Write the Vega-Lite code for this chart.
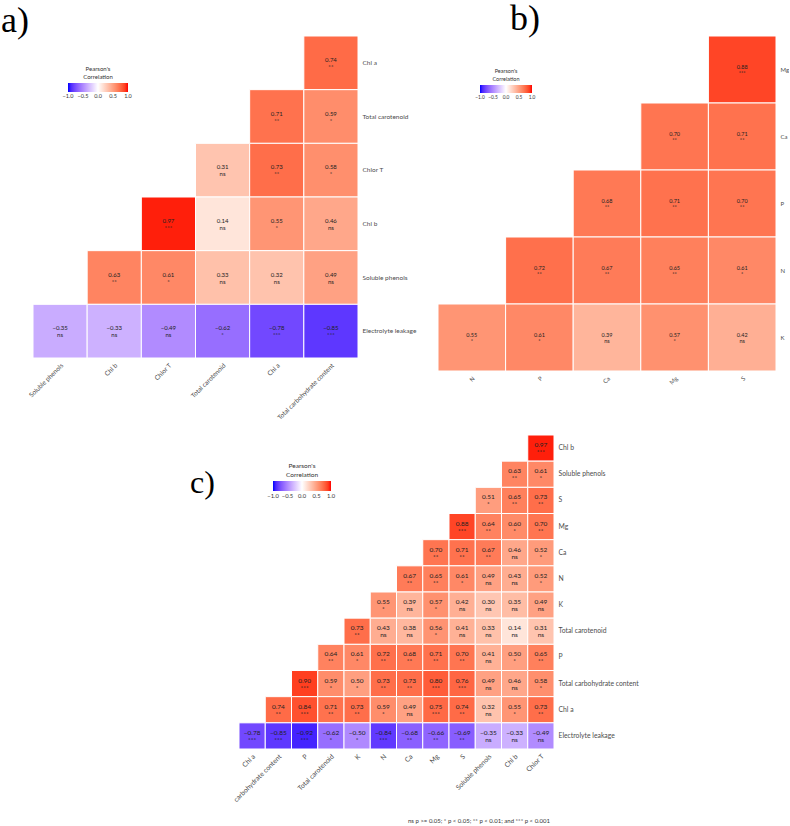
{
  "$schema": "https://vega.github.io/schema/vega-lite/v6.json",
  "padding": {"left": 1, "top": 0, "right": 0, "bottom": 0},
  "background": "white",
  "config": {
    "view": {"stroke": null},
    "axis": {"domain": false, "ticks": false, "grid": false, "labelFont": "Lato", "labelColor": "#4d4d4d", "title": null},
    "title": {"font": "Liberation Serif", "fontWeight": "normal", "color": "#000000"}
  },
  "resolve": {"scale": {"color": "independent"}},
  "bounds": "flush",
  "spacing": 399,
  "vconcat": [
    {
      "bounds": "flush",
      "spacing": 80,
      "resolve": {"scale": {"color": "independent"}},
      "hconcat": [
        {
          "width": 325, "height": 322,
          "title": {"text": "a)", "anchor": "start", "frame": "group", "fontSize": 36, "baseline": "alphabetic", "offset": 0, "dx": -32, "dy": 32},
          "data": {"values": [
            {"row": "Chl a", "col": "Total carbohydrate content", "r": 0.74, "sig": "**"},
            {"row": "Total carotenoid", "col": "Chl a", "r": 0.71, "sig": "**"},
            {"row": "Total carotenoid", "col": "Total carbohydrate content", "r": 0.59, "sig": "*"},
            {"row": "Chlor T", "col": "Total carotenoid", "r": 0.31, "sig": "ns"},
            {"row": "Chlor T", "col": "Chl a", "r": 0.73, "sig": "**"},
            {"row": "Chlor T", "col": "Total carbohydrate content", "r": 0.58, "sig": "*"},
            {"row": "Chl b", "col": "Chlor T", "r": 0.97, "sig": "***"},
            {"row": "Chl b", "col": "Total carotenoid", "r": 0.14, "sig": "ns"},
            {"row": "Chl b", "col": "Chl a", "r": 0.55, "sig": "*"},
            {"row": "Chl b", "col": "Total carbohydrate content", "r": 0.46, "sig": "ns"},
            {"row": "Soluble phenols", "col": "Chl b", "r": 0.63, "sig": "**"},
            {"row": "Soluble phenols", "col": "Chlor T", "r": 0.61, "sig": "*"},
            {"row": "Soluble phenols", "col": "Total carotenoid", "r": 0.33, "sig": "ns"},
            {"row": "Soluble phenols", "col": "Chl a", "r": 0.32, "sig": "ns"},
            {"row": "Soluble phenols", "col": "Total carbohydrate content", "r": 0.49, "sig": "ns"},
            {"row": "Electrolyte leakage", "col": "Soluble phenols", "r": -0.35, "sig": "ns"},
            {"row": "Electrolyte leakage", "col": "Chl b", "r": -0.33, "sig": "ns"},
            {"row": "Electrolyte leakage", "col": "Chlor T", "r": -0.49, "sig": "ns"},
            {"row": "Electrolyte leakage", "col": "Total carotenoid", "r": -0.62, "sig": "*"},
            {"row": "Electrolyte leakage", "col": "Chl a", "r": -0.78, "sig": "***"},
            {"row": "Electrolyte leakage", "col": "Total carbohydrate content", "r": -0.85, "sig": "***"}
          ]},
          "encoding": {
            "x": {"field": "col", "type": "nominal", "sort": ["Soluble phenols", "Chl b", "Chlor T", "Total carotenoid", "Chl a", "Total carbohydrate content"], "scale": {"paddingInner": 0, "paddingOuter": 0}, "axis": {"orient": "bottom", "labelAngle": -45, "labelFontSize": 6.5, "labelPadding": 4, "labelColor": "#4d4d4d"}},
            "y": {"field": "row", "type": "nominal", "sort": ["Chl a", "Total carotenoid", "Chlor T", "Chl b", "Soluble phenols", "Electrolyte leakage"], "scale": {"paddingInner": 0, "paddingOuter": 0}, "axis": {"orient": "right", "labelFontSize": 6.5, "labelPadding": 4, "labelColor": "#4d4d4d"}}
          },
          "layer": [
            {"mark": {"type": "rect", "stroke": "white", "strokeWidth": 1},
             "encoding": {"color": {"field": "r", "type": "quantitative",
               "scale": {"domain": [-1, 0, 1], "range": ["#0000FF", "#FFFFFF", "#FF0000"], "interpolate": "lab"},
               "legend": {"orient": "none", "legendX": 35, "legendY": 30, "direction": "horizontal", "gradientLength": 60, "gradientThickness": 9, "gradientStrokeWidth": 0, "title": ["Pearson's", "Correlation"], "titleFont": "Lato", "titleFontSize": 6, "titleFontWeight": "normal", "titleColor": "#333333", "titleAnchor": "middle", "titleAlign": "center", "titlePadding": 3, "labelFont": "Lato", "labelFontSize": 5.5, "labelColor": "#333333", "labelOverlap": false, "labelAlign": "center", "values": [-0.999, -0.5, 0, 0.5, 0.999], "format": ".1f", "labelOffset": 2}}}},
            {"mark": {"type": "text", "font": "Lato", "fontSize": 6, "color": "#222222", "dy": -3, "baseline": "middle"}, "encoding": {"text": {"field": "r", "type": "quantitative", "format": ".2f"}}},
            {"mark": {"type": "text", "font": "Lato", "fontSize": 6, "color": "#222222", "dy": 4, "baseline": "middle"}, "encoding": {"text": {"field": "sig", "type": "nominal"}}}
          ]
        },
        {
          "width": 338, "height": 335,
          "title": {"text": "b)", "anchor": "start", "frame": "group", "fontSize": 36, "baseline": "alphabetic", "offset": 0, "dx": 72, "dy": 30},
          "data": {"values": [
            {"row": "Mg", "col": "S", "r": 0.88, "sig": "***"},
            {"row": "Ca", "col": "Mg", "r": 0.70, "sig": "**"},
            {"row": "Ca", "col": "S", "r": 0.71, "sig": "**"},
            {"row": "P", "col": "Ca", "r": 0.68, "sig": "**"},
            {"row": "P", "col": "Mg", "r": 0.71, "sig": "**"},
            {"row": "P", "col": "S", "r": 0.70, "sig": "**"},
            {"row": "N", "col": "P", "r": 0.72, "sig": "**"},
            {"row": "N", "col": "Ca", "r": 0.67, "sig": "**"},
            {"row": "N", "col": "Mg", "r": 0.65, "sig": "**"},
            {"row": "N", "col": "S", "r": 0.61, "sig": "*"},
            {"row": "K", "col": "N", "r": 0.55, "sig": "*"},
            {"row": "K", "col": "P", "r": 0.61, "sig": "*"},
            {"row": "K", "col": "Ca", "r": 0.39, "sig": "ns"},
            {"row": "K", "col": "Mg", "r": 0.57, "sig": "*"},
            {"row": "K", "col": "S", "r": 0.42, "sig": "ns"}
          ]},
          "encoding": {
            "x": {"field": "col", "type": "nominal", "sort": ["N", "P", "Ca", "Mg", "S"], "scale": {"paddingInner": 0, "paddingOuter": 0}, "axis": {"orient": "bottom", "labelAngle": -45, "labelFontSize": 6, "labelPadding": 4, "labelColor": "#4d4d4d"}},
            "y": {"field": "row", "type": "nominal", "sort": ["Mg", "Ca", "P", "N", "K"], "scale": {"paddingInner": 0, "paddingOuter": 0}, "axis": {"orient": "right", "labelFontSize": 6, "labelPadding": 4, "labelColor": "#4d4d4d"}}
          },
          "layer": [
            {"mark": {"type": "rect", "stroke": "white", "strokeWidth": 1},
             "encoding": {"color": {"field": "r", "type": "quantitative",
               "scale": {"domain": [-1, 0, 1], "range": ["#0000FF", "#FFFFFF", "#FF0000"], "interpolate": "lab"},
               "legend": {"orient": "none", "legendX": 42, "legendY": 33, "direction": "horizontal", "gradientLength": 52, "gradientThickness": 8, "gradientStrokeWidth": 0, "title": ["Pearson's", "Correlation"], "titleFont": "Lato", "titleFontSize": 5.5, "titleFontWeight": "normal", "titleColor": "#333333", "titleAnchor": "middle", "titleAlign": "center", "titlePadding": 3, "labelFont": "Lato", "labelFontSize": 4.8, "labelColor": "#333333", "labelOverlap": false, "labelAlign": "center", "values": [-0.999, -0.5, 0, 0.5, 0.999], "format": ".1f", "labelOffset": 2}}}},
            {"mark": {"type": "text", "font": "Lato", "fontSize": 5.5, "color": "#222222", "dy": -3, "baseline": "middle"}, "encoding": {"text": {"field": "r", "type": "quantitative", "format": ".2f"}}},
            {"mark": {"type": "text", "font": "Lato", "fontSize": 5.5, "color": "#222222", "dy": 3.5, "baseline": "middle"}, "encoding": {"text": {"field": "sig", "type": "nominal"}}}
          ]
        }
      ]
    },
    {
      "title": {"text": "ns p >= 0.05; * p < 0.05; ** p < 0.01; and *** p < 0.001", "orient": "bottom", "anchor": "start", "frame": "group", "dx": 375, "offset": 15, "font": "Lato", "fontSize": 6, "fontWeight": "normal", "color": "#333333"},
      "bounds": "flush",
      "spacing": 10,
      "resolve": {"scale": {"color": "independent"}},
      "hconcat": [
        {
          "width": 196, "height": 1,
          "data": {"values": []},
          "mark": {"type": "point", "opacity": 0},
          "encoding": {}
        },
        {
          "width": 315, "height": 314,
          "title": {"text": "c)", "anchor": "start", "frame": "group", "fontSize": 32, "baseline": "alphabetic", "offset": 0, "dx": -49, "dy": 90},
          "data": {"values": [
            {"row": "Chl b", "col": "Chlor T", "r": 0.97, "sig": "***"},
            {"row": "Soluble phenols", "col": "Chl b", "r": 0.63, "sig": "**"},
            {"row": "Soluble phenols", "col": "Chlor T", "r": 0.61, "sig": "*"},
            {"row": "S", "col": "Soluble phenols", "r": 0.51, "sig": "*"},
            {"row": "S", "col": "Chl b", "r": 0.65, "sig": "**"},
            {"row": "S", "col": "Chlor T", "r": 0.73, "sig": "**"},
            {"row": "Mg", "col": "S", "r": 0.88, "sig": "***"},
            {"row": "Mg", "col": "Soluble phenols", "r": 0.64, "sig": "**"},
            {"row": "Mg", "col": "Chl b", "r": 0.60, "sig": "*"},
            {"row": "Mg", "col": "Chlor T", "r": 0.70, "sig": "**"},
            {"row": "Ca", "col": "Mg", "r": 0.70, "sig": "**"},
            {"row": "Ca", "col": "S", "r": 0.71, "sig": "**"},
            {"row": "Ca", "col": "Soluble phenols", "r": 0.67, "sig": "**"},
            {"row": "Ca", "col": "Chl b", "r": 0.46, "sig": "ns"},
            {"row": "Ca", "col": "Chlor T", "r": 0.52, "sig": "*"},
            {"row": "N", "col": "Ca", "r": 0.67, "sig": "**"},
            {"row": "N", "col": "Mg", "r": 0.65, "sig": "**"},
            {"row": "N", "col": "S", "r": 0.61, "sig": "*"},
            {"row": "N", "col": "Soluble phenols", "r": 0.49, "sig": "ns"},
            {"row": "N", "col": "Chl b", "r": 0.43, "sig": "ns"},
            {"row": "N", "col": "Chlor T", "r": 0.52, "sig": "*"},
            {"row": "K", "col": "N", "r": 0.55, "sig": "*"},
            {"row": "K", "col": "Ca", "r": 0.39, "sig": "ns"},
            {"row": "K", "col": "Mg", "r": 0.57, "sig": "*"},
            {"row": "K", "col": "S", "r": 0.42, "sig": "ns"},
            {"row": "K", "col": "Soluble phenols", "r": 0.30, "sig": "ns"},
            {"row": "K", "col": "Chl b", "r": 0.35, "sig": "ns"},
            {"row": "K", "col": "Chlor T", "r": 0.49, "sig": "ns"},
            {"row": "Total carotenoid", "col": "K", "r": 0.73, "sig": "**"},
            {"row": "Total carotenoid", "col": "N", "r": 0.43, "sig": "ns"},
            {"row": "Total carotenoid", "col": "Ca", "r": 0.38, "sig": "ns"},
            {"row": "Total carotenoid", "col": "Mg", "r": 0.56, "sig": "*"},
            {"row": "Total carotenoid", "col": "S", "r": 0.41, "sig": "ns"},
            {"row": "Total carotenoid", "col": "Soluble phenols", "r": 0.33, "sig": "ns"},
            {"row": "Total carotenoid", "col": "Chl b", "r": 0.14, "sig": "ns"},
            {"row": "Total carotenoid", "col": "Chlor T", "r": 0.31, "sig": "ns"},
            {"row": "P", "col": "Total carotenoid", "r": 0.64, "sig": "**"},
            {"row": "P", "col": "K", "r": 0.61, "sig": "*"},
            {"row": "P", "col": "N", "r": 0.72, "sig": "**"},
            {"row": "P", "col": "Ca", "r": 0.68, "sig": "**"},
            {"row": "P", "col": "Mg", "r": 0.71, "sig": "**"},
            {"row": "P", "col": "S", "r": 0.70, "sig": "**"},
            {"row": "P", "col": "Soluble phenols", "r": 0.41, "sig": "ns"},
            {"row": "P", "col": "Chl b", "r": 0.50, "sig": "*"},
            {"row": "P", "col": "Chlor T", "r": 0.65, "sig": "**"},
            {"row": "Total carbohydrate content", "col": "P", "r": 0.90, "sig": "***"},
            {"row": "Total carbohydrate content", "col": "Total carotenoid", "r": 0.59, "sig": "*"},
            {"row": "Total carbohydrate content", "col": "K", "r": 0.50, "sig": "*"},
            {"row": "Total carbohydrate content", "col": "N", "r": 0.73, "sig": "**"},
            {"row": "Total carbohydrate content", "col": "Ca", "r": 0.73, "sig": "**"},
            {"row": "Total carbohydrate content", "col": "Mg", "r": 0.80, "sig": "***"},
            {"row": "Total carbohydrate content", "col": "S", "r": 0.76, "sig": "***"},
            {"row": "Total carbohydrate content", "col": "Soluble phenols", "r": 0.49, "sig": "ns"},
            {"row": "Total carbohydrate content", "col": "Chl b", "r": 0.46, "sig": "ns"},
            {"row": "Total carbohydrate content", "col": "Chlor T", "r": 0.58, "sig": "*"},
            {"row": "Chl a", "col": "Total carbohydrate content", "r": 0.74, "sig": "**"},
            {"row": "Chl a", "col": "P", "r": 0.84, "sig": "***"},
            {"row": "Chl a", "col": "Total carotenoid", "r": 0.71, "sig": "**"},
            {"row": "Chl a", "col": "K", "r": 0.73, "sig": "**"},
            {"row": "Chl a", "col": "N", "r": 0.59, "sig": "*"},
            {"row": "Chl a", "col": "Ca", "r": 0.49, "sig": "ns"},
            {"row": "Chl a", "col": "Mg", "r": 0.75, "sig": "***"},
            {"row": "Chl a", "col": "S", "r": 0.74, "sig": "**"},
            {"row": "Chl a", "col": "Soluble phenols", "r": 0.32, "sig": "ns"},
            {"row": "Chl a", "col": "Chl b", "r": 0.55, "sig": "*"},
            {"row": "Chl a", "col": "Chlor T", "r": 0.73, "sig": "**"},
            {"row": "Electrolyte leakage", "col": "Chl a", "r": -0.78, "sig": "***"},
            {"row": "Electrolyte leakage", "col": "Total carbohydrate content", "r": -0.85, "sig": "***"},
            {"row": "Electrolyte leakage", "col": "P", "r": -0.92, "sig": "***"},
            {"row": "Electrolyte leakage", "col": "Total carotenoid", "r": -0.62, "sig": "*"},
            {"row": "Electrolyte leakage", "col": "K", "r": -0.50, "sig": "*"},
            {"row": "Electrolyte leakage", "col": "N", "r": -0.84, "sig": "***"},
            {"row": "Electrolyte leakage", "col": "Ca", "r": -0.68, "sig": "**"},
            {"row": "Electrolyte leakage", "col": "Mg", "r": -0.66, "sig": "**"},
            {"row": "Electrolyte leakage", "col": "S", "r": -0.69, "sig": "**"},
            {"row": "Electrolyte leakage", "col": "Soluble phenols", "r": -0.35, "sig": "ns"},
            {"row": "Electrolyte leakage", "col": "Chl b", "r": -0.33, "sig": "ns"},
            {"row": "Electrolyte leakage", "col": "Chlor T", "r": -0.49, "sig": "ns"}
          ]},
          "encoding": {
            "x": {"field": "col", "type": "nominal", "sort": ["Chl a", "Total carbohydrate content", "P", "Total carotenoid", "K", "N", "Ca", "Mg", "S", "Soluble phenols", "Chl b", "Chlor T"], "scale": {"paddingInner": 0, "paddingOuter": 0}, "axis": {"orient": "bottom", "labelAngle": -45, "labelFontSize": 6.8, "labelPadding": 4, "labelColor": "#4d4d4d", "labelExpr": "datum.value == 'Total carbohydrate content' ? 'carbohydrate content' : datum.value"}},
            "y": {"field": "row", "type": "nominal", "sort": ["Chl b", "Soluble phenols", "S", "Mg", "Ca", "N", "K", "Total carotenoid", "P", "Total carbohydrate content", "Chl a", "Electrolyte leakage"], "scale": {"paddingInner": 0, "paddingOuter": 0}, "axis": {"orient": "right", "labelFontSize": 6.8, "labelPadding": 4, "labelColor": "#4d4d4d"}}
          },
          "layer": [
            {"mark": {"type": "rect", "stroke": "white", "strokeWidth": 1},
             "encoding": {"color": {"field": "r", "type": "quantitative",
               "scale": {"domain": [-1, 0, 1], "range": ["#0000FF", "#FFFFFF", "#FF0000"], "interpolate": "lab"},
               "legend": {"orient": "none", "legendX": 34, "legendY": 28, "direction": "horizontal", "gradientLength": 58, "gradientThickness": 10, "gradientStrokeWidth": 0, "title": ["Pearson's", "Correlation"], "titleFont": "Lato", "titleFontSize": 6.5, "titleFontWeight": "normal", "titleColor": "#333333", "titleAnchor": "middle", "titleAlign": "center", "titlePadding": 3, "labelFont": "Lato", "labelFontSize": 5.8, "labelColor": "#333333", "labelOverlap": false, "labelAlign": "center", "values": [-0.999, -0.5, 0, 0.5, 0.999], "format": ".1f", "labelOffset": 2}}}},
            {"mark": {"type": "text", "font": "Lato", "fontSize": 6.5, "color": "#222222", "dy": -3, "baseline": "middle"}, "encoding": {"text": {"field": "r", "type": "quantitative", "format": ".2f"}}},
            {"mark": {"type": "text", "font": "Lato", "fontSize": 6.5, "color": "#222222", "dy": 4, "baseline": "middle"}, "encoding": {"text": {"field": "sig", "type": "nominal"}}}
          ]
        }
      ]
    }
  ]
}
